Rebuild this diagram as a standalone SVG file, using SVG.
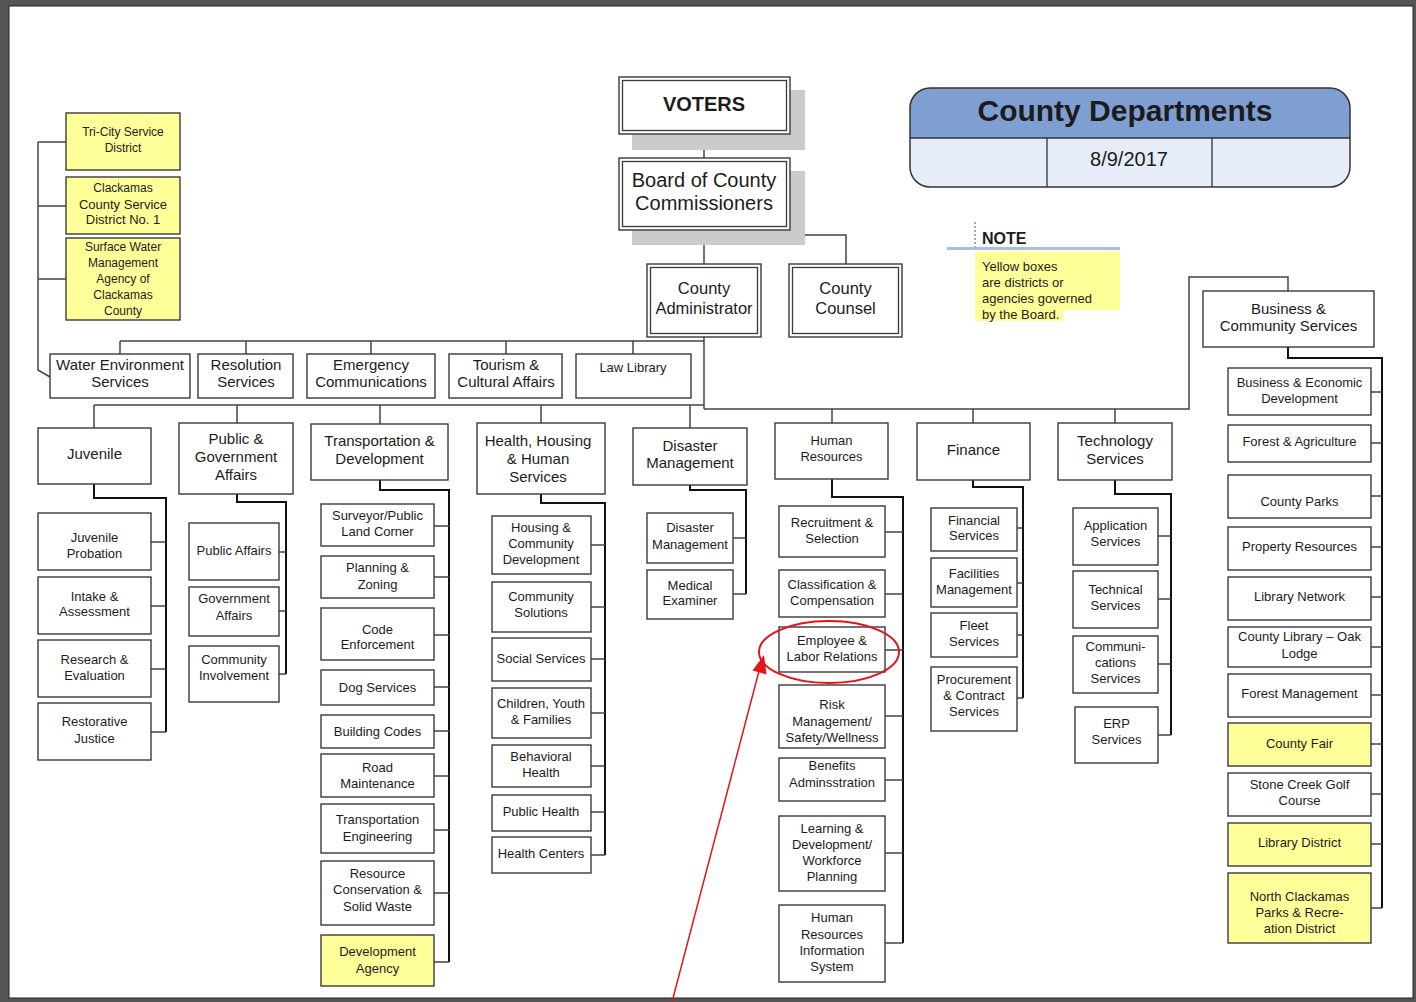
<svg xmlns="http://www.w3.org/2000/svg" width="1416" height="1002" viewBox="0 0 1416 1002">
<defs>
<style>
.box{fill:#fff;stroke:#3a3a3a;stroke-width:1.4}
.yel{fill:#ffff99;stroke:#3a3a3a;stroke-width:1.4}
.dbl{fill:none;stroke:#3a3a3a;stroke-width:1.3}
.shadow{fill:#cbcbcb}
.t{font-family:"Liberation Sans",Arial,sans-serif;fill:#1c1c1c;text-anchor:middle}
.l{text-anchor:start}
.f12{font-size:12px}.f13{font-size:13px}.f15{font-size:15px}.f16{font-size:16.5px}.f20{font-size:20px}.b{font-weight:bold}
.bus{fill:none;stroke:#444;stroke-width:1.5}
.spine{fill:none;stroke:#111;stroke-width:2}
.tick{fill:none;stroke:#444;stroke-width:1.3}
</style>
<clipPath id="hdrclip"><rect x="910" y="88" width="440" height="99" rx="20"/></clipPath>
</defs>
<rect x="0" y="0" width="1416" height="1002" fill="#555"/>
<rect x="9" y="6" width="1404" height="992" fill="#fff" stroke="#222" stroke-width="1"/>

<g id="connectors">
<path class="bus" d="M38,142 H66 M38,206 H66 M38,279 H66 M38,142 V370 L50,377"/>
<path class="bus" d="M704,134 V158 M704,230 V264 M704,235 H846 V264 M704,337 V409"/>
<path class="bus" d="M120,341 H704 M120,341 V354 M246,341 V354 M371,341 V354 M506,341 V354 M633,341 V354"/>
<path class="bus" d="M94,405 H704 M94,405 V428 M237,405 V423 M380,405 V424 M541,405 V423 M690,405 V428"/>
<path class="bus" d="M704,409 H1189 V277 H1288 V291 M832,409 V423 M973,409 V423 M1115,409 V423"/>
<path class="spine" d="M94,484 V498 H166 V732 M237,494 V502 H286 V674 M380,480 V490 H449 V962 M541,494 V503 H605 V855 M690,485 V490 H746 V594 M832,479 V497 H903 V943 M973,480 V487 H1023 V698 M1115,480 V494 H1171 V735 M1288,347 V358 H1382 V908"/>
<path class="tick" d="M151,542 H166 M151,606 H166 M151,669 H166 M151,732 H166"/>
<path class="tick" d="M279,552 H286 M279,611 H286 M279,674 H286"/>
<path class="tick" d="M434,526 H449 M434,577 H449 M434,635 H449 M434,687 H449 M434,731 H449 M434,776 H449 M434,830 H449 M434,893 H449 M434,962 H449"/>
<path class="tick" d="M591,545 H605 M591,607 H605 M591,659 H605 M591,713 H605 M591,766 H605 M591,812 H605 M591,855 H605"/>
<path class="tick" d="M733,538 H746 M733,594 H746"/>
<path class="tick" d="M885,532 H903 M885,594 H903 M885,650 H903 M885,716 H903 M885,780 H903 M885,853 H903 M885,943 H903"/>
<path class="tick" d="M1017,528 H1023 M1017,583 H1023 M1017,635 H1023 M1017,698 H1023"/>
<path class="tick" d="M1158,536 H1171 M1158,599 H1171 M1158,664 H1171 M1158,735 H1171"/>
<path class="tick" d="M1371,392 H1382 M1371,443 H1382 M1371,496 H1382 M1371,547 H1382 M1371,597 H1382 M1371,647 H1382 M1371,695 H1382 M1371,744 H1382 M1371,794 H1382 M1371,844 H1382 M1371,908 H1382"/>
</g>

<g id="header">
<g clip-path="url(#hdrclip)">
<rect x="910" y="88" width="440" height="50" fill="#7f9fd3"/>
<rect x="910" y="138" width="440" height="49" fill="#e6edf8"/>
</g>
<rect x="910" y="88" width="440" height="99" rx="20" fill="none" stroke="#333" stroke-width="1.5"/>
<path d="M910,138 H1350 M1047,138 V187 M1212,138 V187" stroke="#333" stroke-width="1.3" fill="none"/>
<text class="t b" x="1125" y="121" style="font-size:30px">County Departments</text>
<text class="t f20" x="1129" y="166">8/9/2017</text>
</g>

<g id="note">
<path d="M975,222 V250" stroke="#555" stroke-width="1" stroke-dasharray="2,2"/>
<rect x="947" y="247" width="173" height="3" fill="#a8bde3"/>
<rect x="975" y="251" width="145" height="59" fill="#ffff99"/>
<rect x="975" y="309" width="88" height="12" fill="#ffff99"/>
<text class="t l b" x="982" y="244" style="font-size:16px">NOTE</text>
<text class="t l f13" x="982" y="270.5">Yellow boxes</text>
<text class="t l f13" x="982" y="286.5">are districts or</text>
<text class="t l f13" x="982" y="302.5">agencies governed</text>
<text class="t l f13" x="982" y="318.5">by the Board.</text>
</g>

<g id="voters">
<rect class="shadow" x="632" y="90" width="173" height="60"/>
<rect class="box" x="619" y="77" width="171" height="57"/>
<rect class="dbl" x="622.5" y="80.5" width="164" height="50"/>
<text class="t f20 b" x="704" y="111">VOTERS</text>
</g>
<g id="board">
<rect class="shadow" x="632" y="171" width="173" height="74"/>
<rect class="box" x="619" y="158" width="171" height="72"/>
<rect class="dbl" x="622.5" y="161.5" width="164" height="65"/>
<text class="t f20" x="704" y="187">Board of County</text>
<text class="t f20" x="704" y="210">Commissioners</text>
</g>
<g id="county-administrator">
<rect class="box" x="647" y="264" width="114" height="73"/>
<rect class="dbl" x="650.5" y="267.5" width="107" height="66"/>
<text class="t f16" x="704" y="293.8">County</text>
<text class="t f16" x="704" y="313.8">Administrator</text>
</g>
<g id="county-counsel">
<rect class="box" x="789" y="264" width="113" height="73"/>
<rect class="dbl" x="792.5" y="267.5" width="106" height="66"/>
<text class="t f16" x="845.5" y="293.8">County</text>
<text class="t f16" x="845.5" y="313.8">Counsel</text>
</g>

<g id="tri-city">
<rect class="yel" x="66" y="113" width="114" height="57"/>
<text class="t f12" x="123" y="136">Tri-City Service</text>
<text class="t f12" x="123" y="152">District</text>
</g>
<g id="ccsd1">
<rect class="yel" x="66" y="177" width="114" height="57"/>
<text class="t f12" x="123" y="192">Clackamas</text>
<text class="t f13" x="123" y="208.5">County Service</text>
<text class="t f13" x="123" y="223.5">District No. 1</text>
</g>
<g id="surface-water">
<rect class="yel" x="66" y="238" width="114" height="82"/>
<text class="t f12" x="123" y="251">Surface Water</text>
<text class="t f12" x="123" y="267">Management</text>
<text class="t f12" x="123" y="283">Agency of</text>
<text class="t f12" x="123" y="299">Clackamas</text>
<text class="t f12" x="123" y="315">County</text>
</g>

<g id="water-env">
<rect class="box" x="50" y="354" width="140" height="44"/>
<text class="t f15" x="120" y="370">Water Environment</text>
<text class="t f15" x="120" y="387">Services</text>
</g>
<g id="resolution">
<rect class="box" x="198" y="354" width="95" height="44"/>
<text class="t f15" x="246" y="370">Resolution</text>
<text class="t f15" x="246" y="387">Services</text>
</g>
<g id="emergency">
<rect class="box" x="307" y="354" width="128" height="44"/>
<text class="t f15" x="371" y="370">Emergency</text>
<text class="t f15" x="371" y="387">Communications</text>
</g>
<g id="tourism">
<rect class="box" x="449" y="354" width="113" height="44"/>
<text class="t f15" x="506" y="370">Tourism &amp;</text>
<text class="t f15" x="506" y="387">Cultural Affairs</text>
</g>
<g id="law-library">
<rect class="box" x="576" y="354" width="115" height="44"/>
<text class="t f13" x="633" y="371.5">Law Library</text>
</g>

<g id="juvenile">
<rect class="box" x="38" y="428" width="113" height="56"/>
<text class="t f15" x="94.5" y="459">Juvenile</text>
</g>
<g id="juvenile-probation">
<rect class="box" x="38" y="513" width="113" height="57"/>
<text class="t f13" x="94.5" y="541.5">Juvenile</text>
<text class="t f13" x="94.5" y="557.5">Probation</text>
</g>
<g id="intake">
<rect class="box" x="38" y="577" width="113" height="57"/>
<text class="t f13" x="94.5" y="600.5">Intake &amp;</text>
<text class="t f13" x="94.5" y="615.5">Assessment</text>
</g>
<g id="research">
<rect class="box" x="38" y="640" width="113" height="57"/>
<text class="t f13" x="94.5" y="663.5">Research &amp;</text>
<text class="t f13" x="94.5" y="679.5">Evaluation</text>
</g>
<g id="restorative">
<rect class="box" x="38" y="703" width="113" height="57"/>
<text class="t f13" x="94.5" y="725.5">Restorative</text>
<text class="t f13" x="94.5" y="742.5">Justice</text>
</g>

<g id="public-gov">
<rect class="box" x="179" y="423" width="114" height="71"/>
<text class="t f15" x="236" y="444">Public &amp;</text>
<text class="t f15" x="236" y="462">Government</text>
<text class="t f15" x="236" y="480">Affairs</text>
</g>
<g id="public-affairs">
<rect class="box" x="189" y="523" width="90" height="57"/>
<text class="t f13" x="234" y="554.5">Public Affairs</text>
</g>
<g id="government-affairs">
<rect class="box" x="189" y="587" width="90" height="49"/>
<text class="t f13" x="234" y="602.5">Government</text>
<text class="t f13" x="234" y="619.5">Affairs</text>
</g>
<g id="community-involvement">
<rect class="box" x="189" y="646" width="90" height="56"/>
<text class="t f13" x="234" y="663.5">Community</text>
<text class="t f13" x="234" y="679.5">Involvement</text>
</g>

<g id="transportation">
<rect class="box" x="311" y="424" width="137" height="56"/>
<text class="t f15" x="379.5" y="446">Transportation &amp;</text>
<text class="t f15" x="379.5" y="464">Development</text>
</g>
<g id="surveyor">
<rect class="box" x="321" y="504" width="113" height="42"/>
<text class="t f13" x="377.5" y="519.5">Surveyor/Public</text>
<text class="t f13" x="377.5" y="535.5">Land Corner</text>
</g>
<g id="planning">
<rect class="box" x="321" y="556" width="113" height="42"/>
<text class="t f13" x="377.5" y="571.5">Planning &amp;</text>
<text class="t f13" x="377.5" y="588.5">Zoning</text>
</g>
<g id="code-enforcement">
<rect class="box" x="321" y="608" width="113" height="52"/>
<text class="t f13" x="377.5" y="633.5">Code</text>
<text class="t f13" x="377.5" y="648.5">Enforcement</text>
</g>
<g id="dog-services">
<rect class="box" x="321" y="670" width="113" height="35"/>
<text class="t f13" x="377.5" y="691.5">Dog Services</text>
</g>
<g id="building-codes">
<rect class="box" x="321" y="715" width="113" height="33"/>
<text class="t f13" x="377.5" y="735.5">Building Codes</text>
</g>
<g id="road-maintenance">
<rect class="box" x="321" y="754" width="113" height="43"/>
<text class="t f13" x="377.5" y="771.5">Road</text>
<text class="t f13" x="377.5" y="787.5">Maintenance</text>
</g>
<g id="transportation-engineering">
<rect class="box" x="321" y="804" width="113" height="49"/>
<text class="t f13" x="377.5" y="823.5">Transportation</text>
<text class="t f13" x="377.5" y="840.5">Engineering</text>
</g>
<g id="resource-conservation">
<rect class="box" x="321" y="861" width="113" height="64"/>
<text class="t f13" x="377.5" y="877.5">Resource</text>
<text class="t f13" x="377.5" y="893.5">Conservation &amp;</text>
<text class="t f13" x="377.5" y="910.5">Solid Waste</text>
</g>
<g id="development-agency">
<rect class="yel" x="321" y="935" width="113" height="51"/>
<text class="t f13" x="377.5" y="955.5">Development</text>
<text class="t f13" x="377.5" y="972.5">Agency</text>
</g>

<g id="hhhs">
<rect class="box" x="477" y="423" width="128" height="71"/>
<text class="t f15" x="538" y="446">Health, Housing</text>
<text class="t f15" x="538" y="464">&amp; Human</text>
<text class="t f15" x="538" y="482">Services</text>
</g>
<g id="housing-community">
<rect class="box" x="492" y="516" width="99" height="58"/>
<text class="t f13" x="541" y="531.5">Housing &amp;</text>
<text class="t f13" x="541" y="547.5">Community</text>
<text class="t f13" x="541" y="563.5">Development</text>
</g>
<g id="community-solutions">
<rect class="box" x="492" y="582" width="99" height="50"/>
<text class="t f13" x="541" y="600.5">Community</text>
<text class="t f13" x="541" y="616.5">Solutions</text>
</g>
<g id="social-services">
<rect class="box" x="492" y="638" width="99" height="43"/>
<text class="t f13" x="541" y="662.5">Social Services</text>
</g>
<g id="children-youth">
<rect class="box" x="492" y="688" width="99" height="50"/>
<text class="t f13" x="541" y="707.5">Children, Youth</text>
<text class="t f13" x="541" y="723.5">&amp; Families</text>
</g>
<g id="behavioral-health">
<rect class="box" x="492" y="745" width="99" height="42"/>
<text class="t f13" x="541" y="760.5">Behavioral</text>
<text class="t f13" x="541" y="776.5">Health</text>
</g>
<g id="public-health">
<rect class="box" x="492" y="795" width="99" height="36"/>
<text class="t f13" x="541" y="815.5">Public Health</text>
</g>
<g id="health-centers">
<rect class="box" x="492" y="837" width="99" height="36"/>
<text class="t f13" x="541" y="857.5">Health Centers</text>
</g>

<g id="disaster">
<rect class="box" x="633" y="428" width="114" height="57"/>
<text class="t f15" x="690" y="451">Disaster</text>
<text class="t f15" x="690" y="468">Management</text>
</g>
<g id="disaster-management">
<rect class="box" x="647" y="513" width="86" height="50"/>
<text class="t f13" x="690" y="531.5">Disaster</text>
<text class="t f13" x="690" y="548.5">Management</text>
</g>
<g id="medical-examiner">
<rect class="box" x="647" y="570" width="86" height="49"/>
<text class="t f13" x="690" y="589.5">Medical</text>
<text class="t f13" x="690" y="604.5">Examiner</text>
</g>

<g id="human-resources">
<rect class="box" x="775" y="423" width="113" height="56"/>
<text class="t f13" x="831.5" y="444.5">Human</text>
<text class="t f13" x="831.5" y="460.5">Resources</text>
</g>
<g id="recruitment">
<rect class="box" x="779" y="506" width="106" height="51"/>
<text class="t f13" x="832" y="526.5">Recruitment &amp;</text>
<text class="t f13" x="832" y="542.5">Selection</text>
</g>
<g id="classification">
<rect class="box" x="779" y="570" width="106" height="47"/>
<text class="t f13" x="832" y="588.5">Classification &amp;</text>
<text class="t f13" x="832" y="604.5">Compensation</text>
</g>
<g id="employee-labor">
<rect class="box" x="779" y="627" width="106" height="45"/>
<text class="t f13" x="832" y="644.5">Employee &amp;</text>
<text class="t f13" x="832" y="660.5">Labor Relations</text>
</g>
<g id="risk-management">
<rect class="box" x="779" y="685" width="106" height="63"/>
<text class="t f13" x="832" y="708.5">Risk</text>
<text class="t f13" x="832" y="725.5">Management/</text>
<text class="t f13" x="832" y="741.5">Safety/Wellness</text>
</g>
<g id="benefits">
<rect class="box" x="779" y="758" width="106" height="43"/>
<text class="t f13" x="832" y="769.5">Benefits</text>
<text class="t f13" x="832" y="786.5">Adminsstration</text>
</g>
<g id="learning">
<rect class="box" x="779" y="816" width="106" height="75"/>
<text class="t f13" x="832" y="832.5">Learning &amp;</text>
<text class="t f13" x="832" y="848.5">Development/</text>
<text class="t f13" x="832" y="864.5">Workforce</text>
<text class="t f13" x="832" y="880.5">Planning</text>
</g>
<g id="hris">
<rect class="box" x="779" y="905" width="106" height="77"/>
<text class="t f13" x="832" y="921.5">Human</text>
<text class="t f13" x="832" y="938.5">Resources</text>
<text class="t f13" x="832" y="954.5">Information</text>
<text class="t f13" x="832" y="970.5">System</text>
</g>

<g id="finance">
<rect class="box" x="917" y="423" width="113" height="57"/>
<text class="t f15" x="973.5" y="455">Finance</text>
</g>
<g id="financial-services">
<rect class="box" x="931" y="508" width="86" height="43"/>
<text class="t f13" x="974" y="524.5">Financial</text>
<text class="t f13" x="974" y="539.5">Services</text>
</g>
<g id="facilities">
<rect class="box" x="931" y="558" width="86" height="49"/>
<text class="t f13" x="974" y="577.5">Facilities</text>
<text class="t f13" x="974" y="593.5">Management</text>
</g>
<g id="fleet">
<rect class="box" x="931" y="613" width="86" height="44"/>
<text class="t f13" x="974" y="629.5">Fleet</text>
<text class="t f13" x="974" y="645.5">Services</text>
</g>
<g id="procurement">
<rect class="box" x="931" y="667" width="86" height="64"/>
<text class="t f13" x="974" y="683.5">Procurement</text>
<text class="t f13" x="974" y="699.5">&amp; Contract</text>
<text class="t f13" x="974" y="715.5">Services</text>
</g>

<g id="technology">
<rect class="box" x="1058" y="423" width="114" height="57"/>
<text class="t f15" x="1115" y="446">Technology</text>
<text class="t f15" x="1115" y="464">Services</text>
</g>
<g id="application-services">
<rect class="box" x="1073" y="508" width="85" height="57"/>
<text class="t f13" x="1115.5" y="529.5">Application</text>
<text class="t f13" x="1115.5" y="545.5">Services</text>
</g>
<g id="technical-services">
<rect class="box" x="1073" y="571" width="85" height="57"/>
<text class="t f13" x="1115.5" y="593.5">Technical</text>
<text class="t f13" x="1115.5" y="609.5">Services</text>
</g>
<g id="communications-services">
<rect class="box" x="1073" y="636" width="85" height="57"/>
<text class="t f13" x="1115.5" y="650.5">Communi-</text>
<text class="t f13" x="1115.5" y="666.5">cations</text>
<text class="t f13" x="1115.5" y="682.5">Services</text>
</g>
<g id="erp-services">
<rect class="box" x="1075" y="707" width="83" height="56"/>
<text class="t f13" x="1116.5" y="727.5">ERP</text>
<text class="t f13" x="1116.5" y="743.5">Services</text>
</g>

<g id="business-community">
<rect class="box" x="1203" y="291" width="171" height="56"/>
<text class="t f15" x="1288.5" y="314">Business &amp;</text>
<text class="t f15" x="1288.5" y="331">Community Services</text>
</g>
<g id="business-economic">
<rect class="box" x="1228" y="368" width="143" height="47"/>
<text class="t f13" x="1299.5" y="386.5">Business &amp; Economic</text>
<text class="t f13" x="1299.5" y="402.5">Development</text>
</g>
<g id="forest-agriculture">
<rect class="box" x="1228" y="425" width="143" height="37"/>
<text class="t f13" x="1299.5" y="445.5">Forest &amp; Agriculture</text>
</g>
<g id="county-parks">
<rect class="box" x="1228" y="475" width="143" height="43"/>
<text class="t f13" x="1299.5" y="505.5">County Parks</text>
</g>
<g id="property-resources">
<rect class="box" x="1228" y="527" width="143" height="43"/>
<text class="t f13" x="1299.5" y="550.5">Property Resources</text>
</g>
<g id="library-network">
<rect class="box" x="1228" y="577" width="143" height="43"/>
<text class="t f13" x="1299.5" y="600.5">Library Network</text>
</g>
<g id="oak-lodge">
<rect class="box" x="1228" y="627" width="143" height="40"/>
<text class="t f13" x="1299.5" y="640.5">County Library – Oak</text>
<text class="t f13" x="1299.5" y="657.5">Lodge</text>
</g>
<g id="forest-management">
<rect class="box" x="1228" y="674" width="143" height="43"/>
<text class="t f13" x="1299.5" y="697.5">Forest Management</text>
</g>
<g id="county-fair">
<rect class="yel" x="1228" y="723" width="143" height="43"/>
<text class="t f13" x="1299.5" y="747.5">County Fair</text>
</g>
<g id="stone-creek">
<rect class="box" x="1228" y="773" width="143" height="43"/>
<text class="t f13" x="1299.5" y="788.5">Stone Creek Golf</text>
<text class="t f13" x="1299.5" y="804.5">Course</text>
</g>
<g id="library-district">
<rect class="yel" x="1228" y="823" width="143" height="43"/>
<text class="t f13" x="1299.5" y="846.5">Library District</text>
</g>
<g id="north-clackamas">
<rect class="yel" x="1228" y="873" width="143" height="70"/>
<text class="t f13" x="1299.5" y="900.5">North Clackamas</text>
<text class="t f13" x="1299.5" y="916.5">Parks &amp; Recre-</text>
<text class="t f13" x="1299.5" y="932.5">ation District</text>
</g>

<g id="annotation">
<ellipse cx="829" cy="652" rx="70" ry="31" fill="none" stroke="#e3151a" stroke-width="2"/>
<line x1="672" y1="1002" x2="759" y2="671" stroke="#e3151a" stroke-width="1.5"/>
<polygon points="764,655 766.5,674.5 752.5,670.5" fill="#e3151a"/>
</g>
</svg>
